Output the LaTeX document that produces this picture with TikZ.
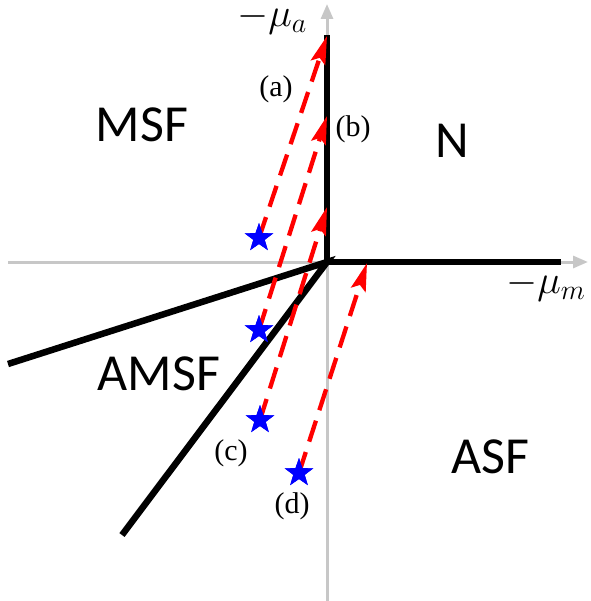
\RequirePackage{fix-cm}
\documentclass[tikz,border=0pt]{standalone}
\usepackage{fontspec}
\setmainfont{Liberation Serif}
\newfontfamily\regionfont{Carlito}
\usetikzlibrary{arrows.meta,shapes.geometric}
\begin{document}
\begin{tikzpicture}[x=1pt,y=-1pt,
  axisline/.style={draw=black!22,line width=3pt,-{Triangle[length=15pt,width=12pt]}},
  boundary/.style={draw=black,line width=6.5pt},
  path/.style={draw=red,line width=4.3pt,dash pattern=on 22pt off 11pt,-{Stealth[length=28pt,width=15pt,inset=5pt]}},
  startstar/.style={star,star points=5,star point ratio=2.5,fill=blue,draw=none,minimum size=30pt,inner sep=0pt},
  region/.style={font=\regionfont\fontsize{52}{60}\selectfont,inner sep=0pt},
  tag/.style={font=\fontsize{30}{34}\selectfont,inner sep=0pt},
  axislabel/.style={font=\fontsize{40}{46}\selectfont,inner sep=0pt,anchor=base west}]
\useasboundingbox (0,0) rectangle (590,601);
% axes
\coordinate (xs) at (8,262);
\coordinate (xe) at (588,262);
\coordinate (ys) at (327,601);
\coordinate (ye) at (327,4);
\draw[axisline] (xs) -- (xe);
\draw[axisline] (ys) -- (ye);
% boundaries
\coordinate (O) at (327,262);
\coordinate (top) at (327,35);
\coordinate (right) at (561,262);
\coordinate (left) at (8,364);
\coordinate (low) at (122,535);
\draw[boundary,line cap=butt] (top) -- (O);
\draw[boundary,line cap=butt] (O) -- (right);
\draw[boundary,line cap=butt,line join=miter] (left) -- (O) -- (low);
% arrow end points
\coordinate (ea) at (327,36);
\coordinate (eb) at (327,116);
\coordinate (ec) at (327,207);
\coordinate (ed) at (367,263);
% stars
\node[startstar] (sa) at (259,238) {};
\node[startstar] (sb) at (259,330) {};
\node[startstar] (sc) at (260,420) {};
\node[startstar] (sd) at (299,473) {};
% paths
\draw[path] (sa.center) -- (ea);
\draw[path] (sb.center) -- (eb);
\draw[path] (sc.center) -- (ec);
\draw[path] (sd.center) -- (ed);
% redraw stars on top
\node[startstar] at (sa) {};
\node[startstar] at (sb) {};
\node[startstar] at (sc) {};
\node[startstar] at (sd) {};
% labels
\node[region] (msf) at (142,125) {MSF};
\node[region] (n) at (452,141) {N};
\node[region] (amsf) at (159,374) {AMSF};
\node[region] (asf) at (490,457) {ASF};
\node[tag] (la) at (276,89) {(a)};
\node[tag] (lb) at (353,129) {(b)};
\node[tag] (lc) at (231,453) {(c)};
\node[tag] (ld) at (292,506) {(d)};
\node[axislabel] (mua) at (237,27) {$-\mu_a$};
\node[axislabel] (mum) at (506,293) {$-\mu_m$};
\end{tikzpicture}
\end{document}
